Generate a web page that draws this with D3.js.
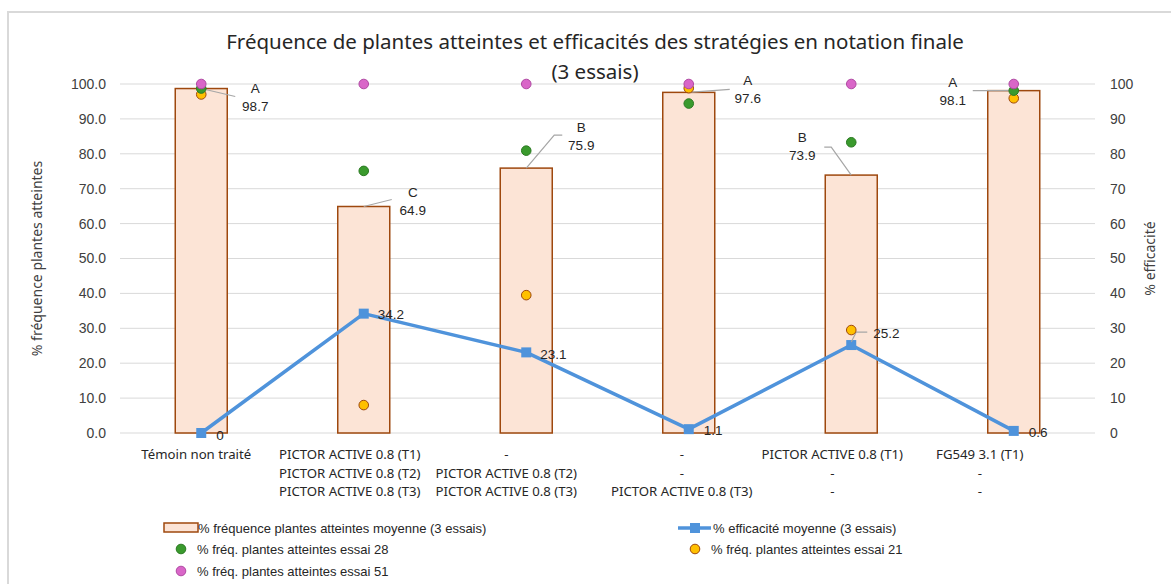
<!DOCTYPE html>
<html lang="fr">
<head>
    <meta charset="UTF-8">
    <title>Fréquence de plantes atteintes et efficacités</title>
    <script src="https://d3js.org/d3.v7.min.js"></script>
    <style>
        body {
            margin: 0;
            background: #fff;
            font-family: 'Liberation Sans', Arial, sans-serif;
        }
        .grid line {
            stroke: #d9d9d9;
            stroke-width: 1px;
        }
        .tick-label {
            font-size: 14px;
            fill: #404040;
        }
        .axis-title {
            font-family: 'Noto Sans', sans-serif;
            font-size: 14px;
            fill: #404040;
        }
        .cat-label {
            font-family: 'Noto Sans', sans-serif;
            font-size: 13.2px;
            fill: #262626;
        }
        .data-label {
            font-size: 13.5px;
            fill: #262626;
        }
        .leader {
            fill: none;
            stroke: #a6a6a6;
            stroke-width: 1.2px;
        }
        .legend text {
            font-size: 13px;
            fill: #262626;
        }
    </style>
</head>
<body>
<div id="chart"></div>

<script>
    // categories (3 lines of treatment labels each)
    const catLine1 = ["Témoin non traité", "PICTOR ACTIVE 0.8 (T1)", "-", "-", "PICTOR ACTIVE 0.8 (T1)", "FG549 3.1 (T1)"];
    const catLine2 = ["", "PICTOR ACTIVE 0.8 (T2)", "PICTOR ACTIVE 0.8 (T2)", "-", "-", "-"];
    const catLine3 = ["", "PICTOR ACTIVE 0.8 (T3)", "PICTOR ACTIVE 0.8 (T3)", "PICTOR ACTIVE 0.8 (T3)", "-", "-"];

    // series
    const freqMean = [98.7, 64.9, 75.9, 97.6, 73.9, 98.1];
    const freqLetters = ["A", "C", "B", "A", "B", "A"];
    const efficacy = [0, 34.2, 23.1, 1.1, 25.2, 0.6];
    const essai28 = [98.7, 75.1, 80.9, 94.4, 83.3, 98.1];
    const essai21 = [97.0, 8.0, 39.5, 98.8, 29.5, 95.9];
    const essai51 = [100, 100, 100, 100, 100, 100];

    const leftTicks = [0, 10, 20, 30, 40, 50, 60, 70, 80, 90, 100];
    const rightTicks = [0, 10, 20, 30, 40, 50, 60, 70, 80, 90, 100];

    const width = 1171, height = 584;
    const plot = {left: 120, right: 1095, top: 84, bottom: 433};

    const barColor = "#fce4d6", barStroke = "#9e480e";
    const lineColor = "#4f93db";
    const greenFill = "#3a9a2d", greenStroke = "#2b7a22";
    const orangeFill = "#ffc000", orangeStroke = "#9e480e";
    const pinkFill = "#d966c8", pinkStroke = "#b04aa3";

    const svg = d3.select("#chart").append("svg")
        .attr("width", width)
        .attr("height", height);

    // chart frame (left/top border only visible)
    svg.append("path")
        .attr("d", "M8,600 L8,12 L1180,12")
        .attr("fill", "none")
        .attr("stroke", "#d9d9d9")
        .attr("stroke-width", 2);

    const idx = d3.range(catLine1.length);
    const x = d3.scaleBand().domain(idx).range([plot.left, plot.right]);
    const y = d3.scaleLinear().domain([0, 100]).range([plot.bottom, plot.top]);
    const y2 = d3.scaleLinear().domain([0, 100]).range([plot.bottom, plot.top]);
    const cx = i => x(i) + x.bandwidth() / 2;

    // title
    const title = svg.append("text")
        .attr("text-anchor", "middle")
        .attr("font-family", "'Noto Sans', sans-serif")
        .attr("font-size", 20.5)
        .attr("fill", "#262626");
    title.append("tspan").attr("x", 595).attr("y", 49)
        .text("Fréquence de plantes atteintes et efficacités des stratégies en notation finale");
    title.append("tspan").attr("x", 595).attr("y", 79).text("(3 essais)");

    // gridlines
    svg.append("g").attr("class", "grid")
        .selectAll("line").data(leftTicks).join("line")
        .attr("x1", plot.left).attr("x2", plot.right)
        .attr("y1", d => y(d)).attr("y2", d => y(d));

    // left axis labels
    svg.append("g").selectAll("text").data(leftTicks).join("text")
        .attr("class", "tick-label")
        .attr("x", 106).attr("y", d => y(d)).attr("dy", "0.35em")
        .attr("text-anchor", "end")
        .text(d => d.toFixed(1));

    // right axis labels
    svg.append("g").selectAll("text").data(rightTicks).join("text")
        .attr("class", "tick-label")
        .attr("x", 1110).attr("y", d => y2(d)).attr("dy", "0.35em")
        .text(d => d);

    // axis titles
    svg.append("text")
        .attr("class", "axis-title")
        .attr("transform", "translate(42," + ((plot.top + plot.bottom) / 2) + ") rotate(-90)")
        .attr("text-anchor", "middle")
        .text("% fréquence plantes atteintes");
    svg.append("text")
        .attr("class", "axis-title")
        .attr("transform", "translate(1155," + ((plot.top + plot.bottom) / 2) + ") rotate(-90)")
        .attr("text-anchor", "middle")
        .text("% efficacité");

    // bars
    const barW = 52;
    svg.append("g").selectAll("rect").data(freqMean).join("rect")
        .attr("x", (d, i) => cx(i) - barW / 2)
        .attr("y", d => y(d))
        .attr("width", barW)
        .attr("height", d => y(0) - y(d))
        .attr("fill", barColor)
        .attr("stroke", barStroke)
        .attr("stroke-width", 1.5);

    // bar labels (letter + value) with leader lines, offsets relative to bar top
    const barLabelOff = [[54, 8], [49, -5], [55, -32], [59, -3], [-49, -29], [-61, 0]];
    const leaderPts = [
        [[0, 0], [34, 8]],
        [[0, 0], [28, -7]],
        [[0, 0], [28, -33], [36, -33]],
        [[0, 0], [41, -3]],
        [[0, 0], [-20, -28], [-27, -28]],
        [[0, 0], [-41, 0]]
    ];
    const line = d3.line();
    freqMean.forEach((v, i) => {
        const bx = cx(i), by = y(v);
        svg.append("path").attr("class", "leader")
            .attr("d", line(leaderPts[i].map(p => [bx + p[0], by + p[1]])));
        const t = svg.append("text").attr("class", "data-label").attr("text-anchor", "middle");
        t.append("tspan").attr("x", bx + barLabelOff[i][0]).attr("y", by + barLabelOff[i][1] - 4).text(freqLetters[i]);
        t.append("tspan").attr("x", bx + barLabelOff[i][0]).attr("y", by + barLabelOff[i][1] + 14).text(v.toFixed(1));
    });

    // category labels
    const catDx = [-5, -14, -20, -7, -19, -34];
    [catLine1, catLine2, catLine3].forEach((lines, r) => {
        svg.append("g").selectAll("text").data(lines).join("text")
            .attr("class", "cat-label")
            .attr("text-anchor", "middle")
            .attr("x", (d, i) => cx(i) + catDx[i])
            .attr("y", 459 + r * 18.5)
            .text(d => d);
    });

    // efficacy line
    svg.append("path")
        .datum(efficacy)
        .attr("fill", "none")
        .attr("stroke", lineColor)
        .attr("stroke-width", 3.5)
        .attr("stroke-linejoin", "round")
        .attr("d", d3.line().x((d, i) => cx(i)).y(d => y2(d)));

    svg.append("g").selectAll("rect").data(efficacy).join("rect")
        .attr("x", (d, i) => cx(i) - 5)
        .attr("y", d => y2(d) - 5)
        .attr("width", 10).attr("height", 10)
        .attr("fill", lineColor);

    // efficacy labels
    const effOff = [[15, 2], [14, 1], [14, 2], [15, 1], [22, -12], [15, 1]];
    const p4 = [cx(4), y2(efficacy[4])];
    svg.append("path").attr("class", "leader")
        .attr("d", line([[p4[0], p4[1] - 3], [p4[0] + 5, p4[1] - 13], [p4[0] + 16, p4[1] - 13]]));
    svg.append("g").selectAll("text").data(efficacy).join("text")
        .attr("class", "data-label")
        .attr("x", (d, i) => cx(i) + effOff[i][0])
        .attr("y", (d, i) => y2(d) + effOff[i][1])
        .attr("dy", "0.35em")
        .text(d => d === 0 ? "0" : d.toFixed(1));

    // essai points
    function drawPoints(values, fill, stroke) {
        svg.append("g").selectAll("circle").data(values).join("circle")
            .attr("cx", (d, i) => cx(i))
            .attr("cy", d => y(d))
            .attr("r", 4.8)
            .attr("fill", fill)
            .attr("stroke", stroke)
            .attr("stroke-width", 1);
    }
    drawPoints(essai21, orangeFill, orangeStroke);
    drawPoints(essai28, greenFill, greenStroke);
    drawPoints(essai51, pinkFill, pinkStroke);

    // legend
    const lg = svg.append("g").attr("class", "legend");
    lg.append("rect").attr("x", 164).attr("y", 523).attr("width", 34).attr("height", 9)
        .attr("fill", barColor).attr("stroke", barStroke).attr("stroke-width", 1.5);
    lg.append("text").attr("x", 198).attr("y", 528).attr("dy", "0.35em")
        .text("% fréquence plantes atteintes moyenne (3 essais)");

    lg.append("line").attr("x1", 678).attr("x2", 711).attr("y1", 528).attr("y2", 528)
        .attr("stroke", lineColor).attr("stroke-width", 3.5);
    lg.append("rect").attr("x", 690).attr("y", 523).attr("width", 10).attr("height", 10).attr("fill", lineColor);
    lg.append("text").attr("x", 713).attr("y", 528).attr("dy", "0.35em")
        .text("% efficacité moyenne (3 essais)");

    const dotLegend = [
        {x: 181, y: 549, fill: greenFill, stroke: greenStroke, label: "% fréq. plantes atteintes essai 28"},
        {x: 695, y: 549, fill: orangeFill, stroke: orangeStroke, label: "% fréq. plantes atteintes essai 21"},
        {x: 181, y: 571, fill: pinkFill, stroke: pinkStroke, label: "% fréq. plantes atteintes essai 51"}
    ];
    dotLegend.forEach(d => {
        lg.append("circle").attr("cx", d.x).attr("cy", d.y).attr("r", 4.8)
            .attr("fill", d.fill).attr("stroke", d.stroke);
        lg.append("text").attr("x", d.x + 16).attr("y", d.y).attr("dy", "0.35em").text(d.label);
    });
</script>
</body>
</html>
